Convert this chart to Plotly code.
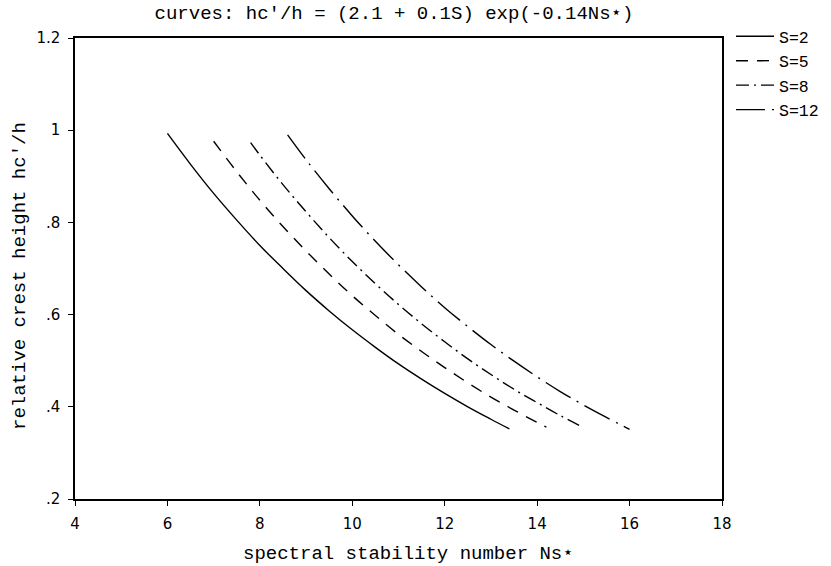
import plotly.graph_objects as go

# Data
s2_x = [6.0, 6.5, 7.0, 7.5, 8.0, 8.5, 9.0, 9.5, 10.0, 10.5, 11.0, 11.5, 12.0, 12.5, 13.0, 13.4]
s2_y = [0.993, 0.926, 0.863, 0.805, 0.750, 0.700, 0.652, 0.608, 0.567, 0.529, 0.493, 0.460, 0.429, 0.400, 0.373, 0.352]
s5_x = [7.0, 7.5, 8.0, 8.5, 9.0, 9.5, 10.0, 10.5, 11.0, 11.5, 12.0, 12.5, 13.0, 13.5, 14.0, 14.2]
s5_y = [0.976, 0.910, 0.848, 0.791, 0.738, 0.688, 0.641, 0.598, 0.557, 0.520, 0.485, 0.452, 0.421, 0.393, 0.366, 0.356]
s8_x = [7.8, 8.0, 8.5, 9.0, 9.5, 10.0, 10.5, 11.0, 11.5, 12.0, 12.5, 13.0, 13.5, 14.0, 14.5, 15.0]
s8_y = [0.973, 0.946, 0.882, 0.823, 0.767, 0.715, 0.667, 0.622, 0.580, 0.541, 0.504, 0.470, 0.438, 0.409, 0.381, 0.355]
s12_x = [8.6, 9.0, 9.5, 10.0, 10.5, 11.0, 11.5, 12.0, 12.5, 13.0, 13.5, 14.0, 14.5, 15.0, 15.5, 16.0]
s12_y = [0.990, 0.936, 0.873, 0.814, 0.759, 0.708, 0.660, 0.615, 0.574, 0.535, 0.499, 0.465, 0.433, 0.404, 0.377, 0.351]

series_names = ["S=2", "S=5", "S=8", "S=12"]
y_tickvals = [0.2, 0.4, 0.6, 0.8, 1.0, 1.2]
y_ticktext = [".2", ".4", ".6", ".8", "1", "1.2"]
x_tickvals = [4, 6, 8, 10, 12, 14, 16, 18]

title_text = "curves: hc'/h = (2.1 + 0.1S) exp(-0.14Ns⋆)"
x_title = "spectral stability number Ns⋆"
y_title = "relative crest height hc'/h"

dashes = ["solid", "12px,9px", "13px,5px,2px,5px", "29px,7px,2px,7px"]
xs = [s2_x, s5_x, s8_x, s12_x]
ys = [s2_y, s5_y, s8_y, s12_y]

mono = "Liberation Mono, DejaVu Sans Mono, monospace"
sans = "DejaVu Sans, Liberation Sans, sans-serif"

W, H = 831, 566
L, R, T, B = 75, 109, 38, 67
PW, PH = W - L - R, H - T - B

fig = go.Figure()
for i, name in enumerate(series_names):
    fig.add_trace(go.Scatter(
        x=xs[i], y=ys[i], mode="lines", name=name,
        line=dict(color="black", width=1.4, dash=dashes[i], shape="spline"),
        legendgroup=name,
    ))

fig.update_layout(
    width=W, height=H,
    margin=dict(l=L, r=R, t=T, b=B, autoexpand=False),
    paper_bgcolor="white", plot_bgcolor="white",
    title=dict(text=title_text,
               x=(394 - L) / PW, xref="paper", xanchor="center",
               y=1 - 12 / H, yanchor="middle",
               font=dict(family=mono, size=19, color="black")),
    legend=dict(x=1.0 + 9 / PW, xanchor="left", y=1.0 + 19 / PH, yanchor="top",
                font=dict(family=mono, size=16.5, color="black"),
                tracegroupgap=0, itemwidth=38, bgcolor="rgba(0,0,0,0)"),
    showlegend=True,
    annotations=[
        dict(text=x_title, xref="paper", yref="paper",
             x=(408 - L) / PW, y=(H - B - 554) / PH,
             xanchor="center", yanchor="middle", showarrow=False,
             font=dict(family=mono, size=19, color="black")),
        dict(text=y_title, xref="paper", yref="paper",
             x=(20 - L) / PW, y=(H - B - 276) / PH, textangle=-90,
             xanchor="center", yanchor="middle", showarrow=False,
             font=dict(family=mono, size=19, color="black")),
    ],
)
fig.update_xaxes(
    range=[4, 18], tickvals=x_tickvals, ticks="outside", ticklen=5,
    tickcolor="black", showline=True, linecolor="black", linewidth=1.5,
    mirror=True, showgrid=False, zeroline=False, ticklabelstandoff=5,
    tickfont=dict(family=sans, size=15, color="black"),
)
fig.update_yaxes(
    range=[0.2, 1.2], tickvals=y_tickvals, ticktext=y_ticktext,
    ticks="outside", ticklen=5, tickcolor="black",
    showline=True, linecolor="black", linewidth=1.5, mirror=True,
    showgrid=False, zeroline=False, ticklabelstandoff=5,
    tickfont=dict(family=sans, size=15, color="black"),
)

fig.write_html("out.html", config={"displayModeBar": False},
               post_script="document.body.style.margin='0px';")
